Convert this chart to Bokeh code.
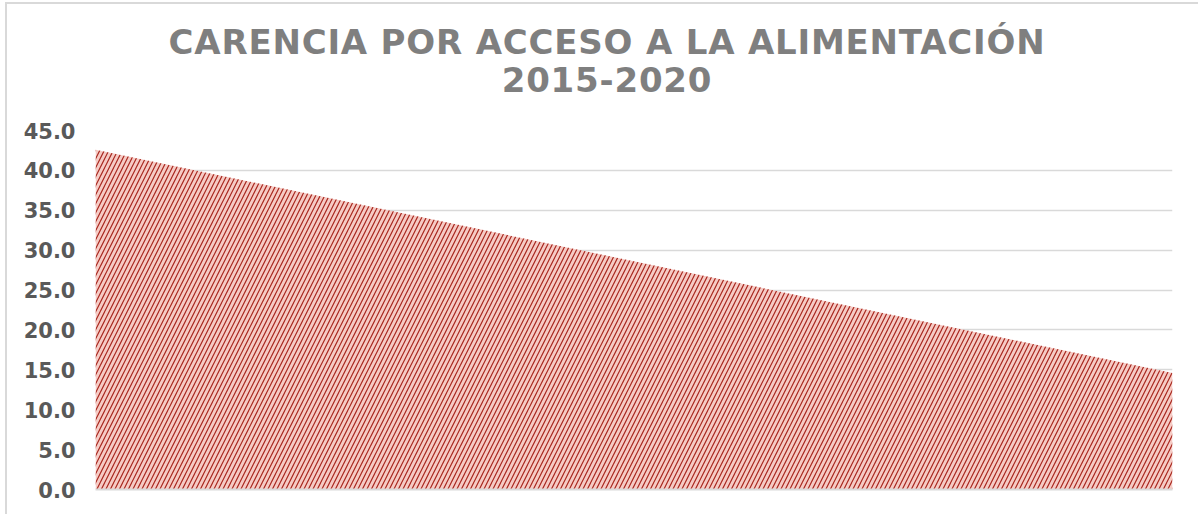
from bokeh.plotting import figure
from bokeh.models import Range1d, FixedTicker, NumeralTickFormatter, Div
from bokeh.layouts import column
from bokeh.embed import file_html
from bokeh.resources import INLINE

# Data
years = [2015, 2020]
carencia = [42.6, 14.6]
y_ticks = [0, 5, 10, 15, 20, 25, 30, 35, 40, 45]
title_line1 = "CARENCIA POR ACCESO A LA ALIMENTACIÓN"
title_line2 = "2015-2020"

title_div = Div(
    text=('<div style="width:1190px;text-align:center;font-family:\'DejaVu Sans\';'
          'font-weight:bold;font-size:34px;line-height:38px;color:#7f7f7f;'
          'letter-spacing:0.8px;padding-top:14px;">'
          + title_line1 + '<br>' + title_line2 + '</div>'),
    width=1190, height=90)

fig = figure(width=1190, height=410,
             x_range=Range1d(years[0], years[-1]), y_range=Range1d(0, 45),
             output_backend="svg", toolbar_location=None,
             min_border_left=88, min_border_right=25,
             min_border_top=26, min_border_bottom=25,
             background_fill_color="white", border_fill_color="white")
fig.outline_line_color = None
fig.title.visible = False

fig.varea(x=years, y1=[0, 0], y2=carencia,
          fill_color="#f6cbc5", hatch_pattern="/", hatch_color="#a8261d",
          hatch_scale=9, hatch_weight=1.2)

# y axis
fig.yaxis.ticker = FixedTicker(ticks=y_ticks)
fig.yaxis.formatter = NumeralTickFormatter(format="0.0")
fig.yaxis.axis_line_color = None
fig.yaxis.major_tick_line_color = None
fig.yaxis.minor_tick_line_color = None
fig.yaxis.major_label_text_font = "DejaVu Sans"
fig.yaxis.major_label_text_font_style = "bold"
fig.yaxis.major_label_text_font_size = "21px"
fig.yaxis.major_label_text_color = "#595959"
fig.yaxis.major_label_standoff = 14

# x axis (no labels)
fig.xaxis.ticker = FixedTicker(ticks=[])
fig.xaxis.major_tick_line_color = None
fig.xaxis.minor_tick_line_color = None
fig.xaxis.axis_line_color = "#d9d9d9"
fig.xaxis.axis_line_width = 2

fig.xgrid.grid_line_color = None
fig.ygrid.ticker = FixedTicker(ticks=y_ticks)
fig.ygrid.grid_line_color = "#d9d9d9"
fig.ygrid.grid_line_width = 1.5

p = column(title_div, fig, spacing=0,
           styles={"margin-left": "5px", "margin-top": "2px",
                   "border-top": "2px solid #d9d9d9",
                   "border-left": "2px solid #d9d9d9"})

open("out.html", "w").write(file_html(p, INLINE))
